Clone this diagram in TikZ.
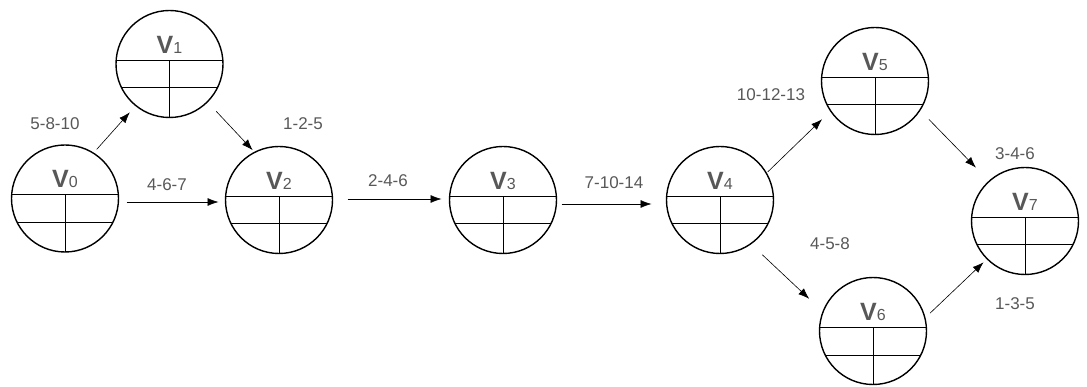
\documentclass[tikz,border=0pt]{standalone}
\usepackage{fontspec}
\setmainfont{Liberation Sans}
\usetikzlibrary{arrows.meta,calc}
\definecolor{lblgray}{RGB}{88,88,88}
\tikzset{
  vnode/.style={circle,draw,line width=1.4pt,minimum size=107pt,inner sep=0pt,outer sep=0pt},
  cellline/.style={line width=1pt},
  edgearrow/.style={line width=0.6pt,-{Latex[length=11pt,width=8pt]}},
  elabel/.style={text=lblgray,font=\fontsize{17}{17}\selectfont,inner sep=0pt},
  vlabel/.style={text=lblgray,anchor=base,inner sep=0pt},
}
\newcommand{\vcell}[2]{%
  \begin{scope}[shift={(#1.center)}]
    \draw[cellline] (-53.4,-3.5) -- (53.4,-3.5);
    \draw[cellline] (-47.8,24) -- (47.8,24);
    \draw[cellline] (0,-3.5) -- (0,53.5);
  \end{scope}
  \node[vlabel] (#1t) at ($(#1.center)+(0,-10.5)$) {{\fontsize{25}{25}\selectfont\bfseries V}{\fontsize{16}{16}\selectfont #2}};
}
\begin{document}
\begin{tikzpicture}[x=1pt,y=-1pt]
  \useasboundingbox (0,0) rectangle (1087,387);
  \node[vnode] (v0) at (65,198.5) {};
  \node[vnode] (v1) at (169.5,64) {};
  \node[vnode] (v2) at (279,200) {};
  \node[vnode] (v3) at (503,200) {};
  \node[vnode] (v4) at (720,200) {};
  \node[vnode] (v5) at (875,81) {};
  \node[vnode] (v6) at (873,331) {};
  \node[vnode] (v7) at (1025,221) {};
  \vcell{v0}{0}
  \vcell{v1}{1}
  \vcell{v2}{2}
  \vcell{v3}{3}
  \vcell{v4}{4}
  \vcell{v5}{5}
  \vcell{v6}{6}
  \vcell{v7}{7}
  % connectors
  \draw[edgearrow,shorten <=5pt,shorten >=9pt] (v0.58) -- (v1.231);
  \draw[edgearrow,shorten <=13pt,shorten >=3pt] (v1.-45) -- (v2.117);
  \draw[edgearrow,shorten <=8pt,shorten >=7pt] ([yshift=-3.5pt]v0.east) -- ([yshift=-2pt]v2.west);
  \draw[edgearrow,shorten <=15pt,shorten >=8pt] ([yshift=1pt]v2.east) -- ([yshift=1pt]v3.west);
  \draw[edgearrow,shorten <=5pt,shorten >=15pt] ([yshift=-4pt]v3.east) -- ([yshift=-4pt]v4.west);
  \draw[edgearrow,shorten <=2pt,shorten >=12pt] (v4.30) -- (v5.214);
  \draw[edgearrow,shorten <=16pt,shorten >=19pt] (v4.-55) -- (v6.159);
  \draw[edgearrow,shorten <=13pt,shorten >=19pt] (v5.-33.5) -- (v7.132);
  \draw[edgearrow,shorten <=7pt,shorten >=5pt] (v6.14) -- (v7.225);
  % labels
  \node[elabel] (l01) at (55,124) {5-8-10};
  \node[elabel] (l12) at (303,124) {1-2-5};
  \node[elabel] (l02) at (167,185) {4-6-7};
  \node[elabel] (l23) at (388,181) {2-4-6};
  \node[elabel] (l34) at (614,182.5) {7-10-14};
  \node[elabel] (l45) at (771,95) {10-12-13};
  \node[elabel] (l57) at (1015,154) {3-4-6};
  \node[elabel] (l46) at (830,244) {4-5-8};
  \node[elabel] (l67) at (1015,304) {1-3-5};
\end{tikzpicture}
\end{document}
